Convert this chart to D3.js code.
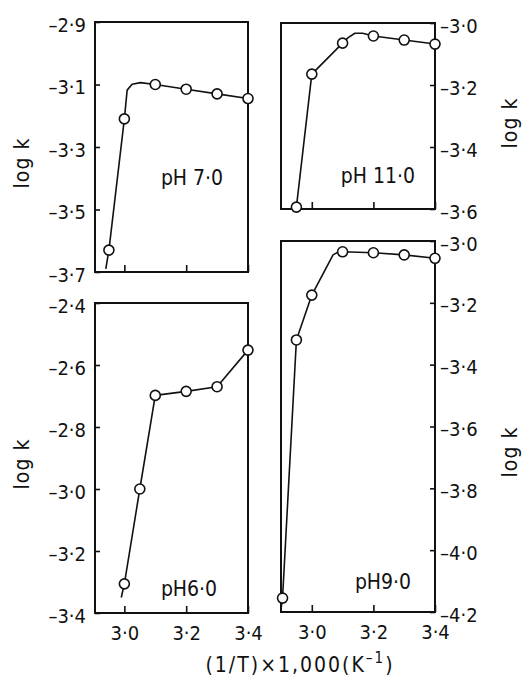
<!DOCTYPE html>
<html>
<head>
<meta charset="utf-8">
<script src="https://cdn.jsdelivr.net/npm/d3@7"></script>
<style>
  body { margin: 0; background: #fff; }
  svg text { font-family: "DejaVu Sans Condensed", "DejaVu Sans", sans-serif; fill: #111; }
</style>
</head>
<body>
<svg></svg>
<script>
// tick values
let xTicks = [3.0, 3.2, 3.4]
let ph7Ticks = [-2.9, -3.1, -3.3, -3.5, -3.7]
let ph11Ticks = [-3.0, -3.2, -3.4, -3.6]
let ph6Ticks = [-2.4, -2.6, -2.8, -3.0, -3.2, -3.4]
let ph9Ticks = [-3.0, -3.2, -3.4, -3.6, -3.8, -4.0, -4.2]

// measured points (open circles)
let ph7X = [2.95, 3.0, 3.1, 3.2, 3.3, 3.4]
let ph7Y = [-3.63, -3.21, -3.10, -3.115, -3.13, -3.145]
let ph11X = [2.95, 3.0, 3.1, 3.2, 3.3, 3.4]
let ph11Y = [-3.594, -3.165, -3.065, -3.042, -3.055, -3.068]
let ph6X = [3.0, 3.05, 3.1, 3.2, 3.3, 3.4]
let ph6Y = [-3.306, -3.0, -2.698, -2.685, -2.67, -2.552]
let ph9X = [2.905, 2.95, 3.0, 3.1, 3.2, 3.3, 3.4]
let ph9Y = [-4.155, -3.32, -3.175, -3.035, -3.038, -3.045, -3.056]

// drawn curves (points plus the bends of the hand-drawn line)
let ph7LineX = [2.94, 2.95, 3.0, 3.009, 3.025, 3.052, 3.1, 3.2, 3.3, 3.4]
let ph7LineY = [-3.69, -3.63, -3.21, -3.118, -3.099, -3.094, -3.10, -3.115, -3.13, -3.145]
let ph11LineX = [2.95, 3.0, 3.1, 3.118, 3.14, 3.165, 3.2, 3.3, 3.4]
let ph11LineY = [-3.594, -3.165, -3.065, -3.047, -3.033, -3.033, -3.042, -3.055, -3.068]
let ph6LineX = [2.99, 3.0, 3.05, 3.1, 3.2, 3.3, 3.4]
let ph6LineY = [-3.35, -3.306, -3.0, -2.698, -2.685, -2.67, -2.552]
let ph9LineX = [2.9, 2.905, 2.95, 3.0, 3.069, 3.085, 3.1, 3.2, 3.3, 3.4]
let ph9LineY = [-4.19, -4.155, -3.32, -3.175, -3.045, -3.036, -3.035, -3.038, -3.045, -3.056]

let width = 524
let height = 682

let svg = d3.select('svg')
            .attr('width', width)
            .attr('height', height)

let fmt = v => d3.format('.1f')(v).replace('.', '·').replace('−', '–')

let panels = [
    {name: 'pH 7·0', xs: ph7X, ys: ph7Y, lx: ph7LineX, ly: ph7LineY, ticks: ph7Ticks,
     box: [95, 22, 248, 272], xDom: [2.905, 3.4], yDom: [-3.7, -2.9], side: 'left', xLabels: false,
     label: [192, 185], title: [22, 163]},
    {name: 'pH 11·0', xs: ph11X, ys: ph11Y, lx: ph11LineX, ly: ph11LineY, ticks: ph11Ticks,
     box: [281, 23, 435, 209], xDom: [2.9, 3.4], yDom: [-3.6, -3.0], side: 'right', xLabels: false,
     label: [378, 183], title: [510, 123]},
    {name: 'pH6·0', xs: ph6X, ys: ph6Y, lx: ph6LineX, ly: ph6LineY, ticks: ph6Ticks,
     box: [95, 303, 248, 613], xDom: [2.905, 3.4], yDom: [-3.4, -2.4], side: 'left', xLabels: true,
     label: [189, 596], title: [22, 464]},
    {name: 'pH9·0', xs: ph9X, ys: ph9Y, lx: ph9LineX, ly: ph9LineY, ticks: ph9Ticks,
     box: [281, 241, 435, 612], xDom: [2.9, 3.4], yDom: [-4.2, -3.0], side: 'right', xLabels: true,
     label: [383, 589], title: [510, 452]}
]

let drawPanel = p => {
    let [x0, y0, x1, y1] = p.box
    let xScale = d3.scaleLinear().domain(p.xDom).range([x0, x1])
    let yScale = d3.scaleLinear().domain(p.yDom).range([y1, y0])

    let g = svg.append('g')

    // x axis, inward ticks
    let xAxis = d3.axisBottom(xScale)
                  .tickValues(xTicks)
                  .tickSize(-7)
                  .tickPadding(13)
                  .tickFormat(p.xLabels ? fmt : '')
    let gx = g.append('g')
              .attr('transform', 'translate(0,' + y1 + ')')
              .call(xAxis)
    gx.select('.domain').remove()
    gx.selectAll('line').attr('stroke', '#111').attr('stroke-width', 1.6)
    gx.selectAll('text').attr('font-size', 20).attr('fill', '#111')

    // y axis
    let yAxis = (p.side === 'left' ? d3.axisLeft(yScale) : d3.axisRight(yScale))
                  .tickValues(p.ticks)
                  .tickSize(-5)
                  .tickPadding(p.side === 'left' ? 9 : 5)
                  .tickFormat(fmt)
    let gy = g.append('g')
              .attr('transform', 'translate(' + (p.side === 'left' ? x0 : x1) + ',0)')
              .call(yAxis)
    gy.select('.domain').remove()
    gy.selectAll('line').attr('stroke', '#111').attr('stroke-width', 1.6)
    gy.selectAll('text').attr('font-size', 20).attr('fill', '#111').attr('dy', '0.45em')

    // frame
    g.append('rect')
     .attr('x', x0).attr('y', y0)
     .attr('width', x1 - x0).attr('height', y1 - y0)
     .attr('fill', 'none')
     .attr('stroke', '#111')
     .attr('stroke-width', 2)

    let line = d3.line()
                 .x(d => xScale(d[0]))
                 .y(d => yScale(d[1]))
    g.append('path')
     .datum(p.lx.map((v, i) => [v, p.ly[i]]))
     .attr('d', line)
     .attr('fill', 'none')
     .attr('stroke', '#111')
     .attr('stroke-width', 1.6)
     .attr('stroke-linejoin', 'round')

    g.selectAll('circle')
     .data(p.xs.map((v, i) => [v, p.ys[i]]))
     .enter()
     .append('circle')
     .attr('cx', d => xScale(d[0]))
     .attr('cy', d => yScale(d[1]))
     .attr('r', 5)
     .attr('fill', '#fff')
     .attr('stroke', '#111')
     .attr('stroke-width', 1.6)

    g.append('text')
     .attr('x', p.label[0]).attr('y', p.label[1])
     .attr('text-anchor', 'middle')
     .attr('font-size', 21)
     .text(p.name)

    g.append('text')
     .attr('transform', 'translate(' + p.title[0] + ',' + p.title[1] + ') rotate(-90)')
     .attr('text-anchor', 'middle')
     .attr('dy', '0.35em')
     .attr('font-size', 21)
     .attr('letter-spacing', 1)
     .text('log k')
}

panels.forEach(drawPanel)

let xt = svg.append('text')
            .attr('x', 300)
            .attr('y', 672)
            .attr('text-anchor', 'middle')
            .attr('font-size', 21)
            .attr('letter-spacing', 2)
xt.append('tspan').text('(1/T)×1,000(K')
xt.append('tspan').attr('dy', -9).attr('font-size', 15).text('–1')
xt.append('tspan').attr('dy', 9).text(')')
</script>
</body>
</html>
